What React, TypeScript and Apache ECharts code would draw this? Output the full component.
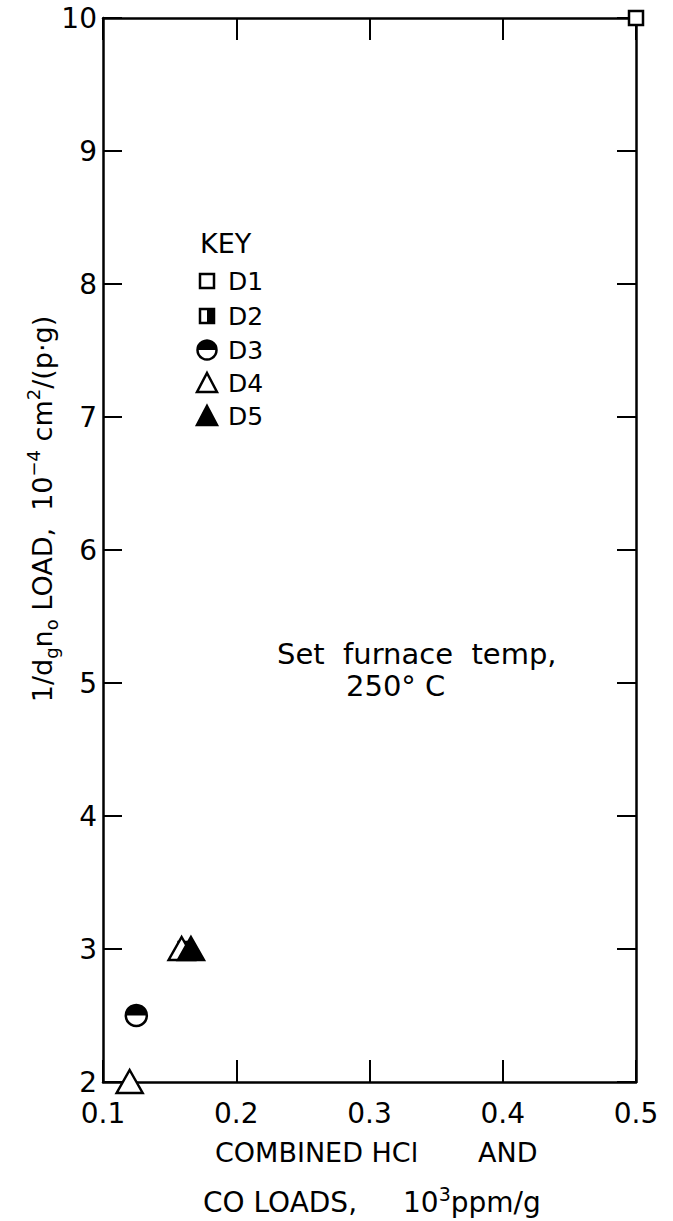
import React, { useEffect, useRef } from "react";
import * as echarts from "echarts";

const FONT = "DejaVu Sans";

// data
const d1 = [[0.5, 10.0]];
const d2 = [[0.162, 3.0]];
const d3 = [[0.125, 2.5]];
const d4 = [[0.12, 2.0], [0.159, 3.0]];
const d5 = [[0.166, 3.0]];

const xTicks = [0.1, 0.2, 0.3, 0.4, 0.5];
const yTicks = [2, 3, 4, 5, 6, 7, 8, 9, 10];
const keyLabels = ["D1", "D2", "D3", "D4", "D5"];

const LW = 2.5;

function squareItem(half: boolean) {
  return (params: any, api: any) => {
    const p = api.coord([api.value(0), api.value(1)]);
    const s = 7;
    const children: any[] = [
      { type: "rect", shape: { x: p[0] - s, y: p[1] - s, width: 2 * s, height: 2 * s }, style: { fill: "#fff", stroke: "#000", lineWidth: LW } },
    ];
    if (half) children.push({ type: "rect", shape: { x: p[0], y: p[1] - s, width: s, height: 2 * s }, style: { fill: "#000" } });
    return { type: "group", children };
  };
}

function circleItem(params: any, api: any) {
  const p = api.coord([api.value(0), api.value(1)]);
  const r = 10.5;
  return {
    type: "group",
    children: [
      { type: "circle", shape: { cx: p[0], cy: p[1], r }, style: { fill: "#fff", stroke: "#000", lineWidth: LW } },
      { type: "sector", shape: { cx: p[0], cy: p[1], r0: 0, r, startAngle: Math.PI, endAngle: Math.PI * 2 }, style: { fill: "#000" } },
    ],
  };
}

function triItem(filled: boolean) {
  return (params: any, api: any) => {
    const p = api.coord([api.value(0), api.value(1)]);
    const w = 13;
    return {
      type: "polygon",
      shape: { points: [[p[0], p[1] - 12], [p[0] + w, p[1] + 11], [p[0] - w, p[1] + 11]] },
      style: { fill: filled ? "#000" : "#fff", stroke: "#000", lineWidth: LW, lineJoin: "miter" },
    };
  };
}

export default function App() {
  const ref = useRef<HTMLDivElement>(null);
  useEffect(() => {
    document.body.style.margin = "0";
    const chart = echarts.init(ref.current!, null, { renderer: "svg" });

    const axisLine = { show: true, onZero: false, lineStyle: { color: "#000", width: LW } };
    const tickStyle = { color: "#000", width: 2 };

    const keyX = 207;
    const keyRows = [281, 316, 350, 383, 416];
    const keyGraphics: any[] = [
      { type: "text", x: 200, y: 243, style: { text: "KEY", font: `27px ${FONT}`, fill: "#000", verticalAlign: "middle" } },
    ];
    keyLabels.forEach((lab, i) => {
      keyGraphics.push({ type: "text", x: 228, y: keyRows[i], style: { text: lab, font: `25px ${FONT}`, fill: "#000", verticalAlign: "middle" } });
    });
    const s = 7;
    // D1
    keyGraphics.push({ type: "rect", shape: { x: keyX - s, y: keyRows[0] - s, width: 2 * s, height: 2 * s }, style: { fill: "#fff", stroke: "#000", lineWidth: LW } });
    // D2
    keyGraphics.push({ type: "rect", shape: { x: keyX - s, y: keyRows[1] - s, width: 2 * s, height: 2 * s }, style: { fill: "#fff", stroke: "#000", lineWidth: LW } });
    keyGraphics.push({ type: "rect", shape: { x: keyX, y: keyRows[1] - s, width: s, height: 2 * s }, style: { fill: "#000" } });
    // D3
    keyGraphics.push({ type: "circle", shape: { cx: keyX, cy: keyRows[2], r: 9.5 }, style: { fill: "#fff", stroke: "#000", lineWidth: LW } });
    keyGraphics.push({ type: "sector", shape: { cx: keyX, cy: keyRows[2], r0: 0, r: 9.5, startAngle: Math.PI, endAngle: Math.PI * 2 }, style: { fill: "#000" } });
    // D4
    keyGraphics.push({ type: "polygon", shape: { points: [[keyX, keyRows[3] - 10], [keyX + 10, keyRows[3] + 9], [keyX - 10, keyRows[3] + 9]] }, style: { fill: "#fff", stroke: "#000", lineWidth: LW } });
    // D5
    keyGraphics.push({ type: "polygon", shape: { points: [[keyX, keyRows[4] - 10], [keyX + 10, keyRows[4] + 9], [keyX - 10, keyRows[4] + 9]] }, style: { fill: "#000", stroke: "#000", lineWidth: LW } });

    const main = { fontSize: 27, fontFamily: FONT, lineHeight: 36, verticalAlign: "middle" };
    const sup = { fontSize: 18, fontFamily: FONT, lineHeight: 20, verticalAlign: "top" };
    const sub = { fontSize: 18, fontFamily: FONT, lineHeight: 20, verticalAlign: "bottom" };

    chart.setOption({
      animation: false,
      backgroundColor: "#fff",
      grid: { left: 103, right: 37, top: 18, bottom: 139, containLabel: false },
      xAxis: [
        {
          type: "value", min: xTicks[0], max: xTicks[xTicks.length - 1], interval: 0.1, position: "bottom",
          axisLine, axisTick: { inside: true, length: 22, lineStyle: tickStyle },
          axisLabel: { fontSize: 28, fontFamily: FONT, color: "#000", margin: 17, lineHeight: 28, formatter: (v: number) => v.toFixed(1) },
          splitLine: { show: false },
        },
        {
          type: "value", min: xTicks[0], max: xTicks[xTicks.length - 1], interval: 0.1, position: "top",
          axisLine, axisTick: { inside: true, length: 22, lineStyle: tickStyle },
          axisLabel: { show: false }, splitLine: { show: false },
        },
      ],
      yAxis: [
        {
          type: "value", min: yTicks[0], max: yTicks[yTicks.length - 1], interval: 1, position: "left",
          axisLine, axisTick: { inside: true, length: 19, lineStyle: tickStyle },
          axisLabel: { fontSize: 28, fontFamily: FONT, color: "#000", margin: 6, lineHeight: 22, formatter: (v: number) => String(v) },
          splitLine: { show: false },
        },
        {
          type: "value", min: yTicks[0], max: yTicks[yTicks.length - 1], interval: 1, position: "right",
          axisLine, axisTick: { inside: true, length: 19, lineStyle: tickStyle },
          axisLabel: { show: false }, splitLine: { show: false },
        },
      ],
      series: [
        { name: "D2", type: "custom", clip: false, renderItem: squareItem(true), data: d2, z: 3 },
        { name: "D1", type: "custom", clip: false, renderItem: squareItem(false), data: d1, z: 3 },
        { name: "D3", type: "custom", clip: false, renderItem: circleItem, data: d3, z: 3 },
        { name: "D4", type: "custom", clip: false, renderItem: triItem(false), data: d4, z: 4 },
        { name: "D5", type: "custom", clip: false, renderItem: triItem(true), data: d5, z: 5 },
      ],
      graphic: [
        ...keyGraphics,
        { type: "text", x: 277, y: 654, style: { text: "Set  furnace  temp,", font: `29px ${FONT}`, fill: "#000", verticalAlign: "middle" } },
        { type: "text", x: 346, y: 686, style: { text: "250° C", font: `29px ${FONT}`, fill: "#000", verticalAlign: "middle" } },
        { type: "text", x: 215, y: 1152, style: { text: "COMBINED HCl", font: `27px ${FONT}`, fill: "#000", verticalAlign: "middle" } },
        { type: "text", x: 478, y: 1152, style: { text: "AND", font: `27px ${FONT}`, fill: "#000", verticalAlign: "middle" } },
        { type: "text", x: 203, y: 1202, style: { text: "CO LOADS,", font: `28px ${FONT}`, fill: "#000", verticalAlign: "middle" } },
        {
          type: "text", x: 403, y: 1202,
          style: { text: "{a|10}{sup|3}{a|ppm/g}", fill: "#000", verticalAlign: "middle", rich: { a: { ...main, fontSize: 28 }, sup: { ...sup, fontSize: 19 } } },
        },
        {
          type: "text", x: 42, y: 509, rotation: Math.PI / 2,
          style: {
            text: "{a|1/d}{sub|g}{a|n}{sub|o}{a| LOAD,  10}{sup|−4}{a| cm}{sup|2}{a|/(p·g)}",
            fill: "#000", align: "center", verticalAlign: "middle",
            rich: { a: main, sup, sub },
          },
        },
      ],
    });
    return () => chart.dispose();
  }, []);
  return <div ref={ref} style={{ width: 673, height: 1221 }} />;
}
